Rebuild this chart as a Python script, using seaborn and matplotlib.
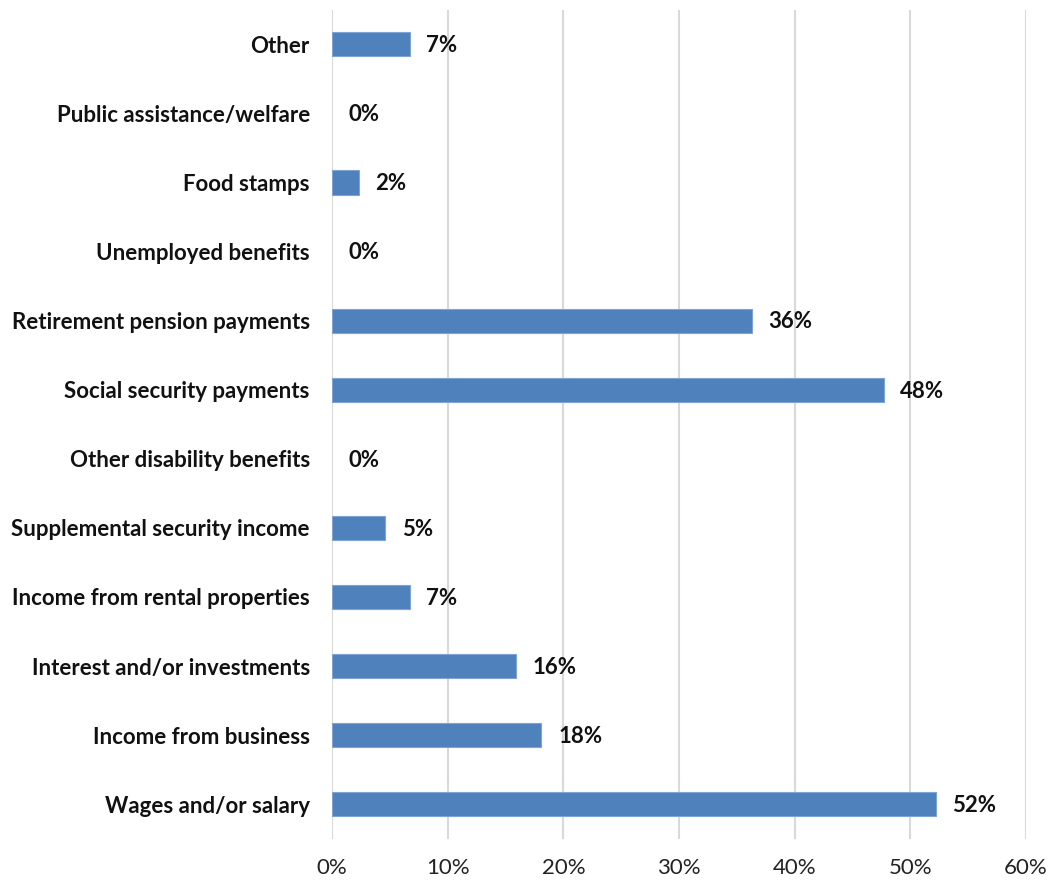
import matplotlib
matplotlib.use("Agg")
import matplotlib.pyplot as plt
import seaborn as sns
import pandas as pd
from matplotlib.ticker import FuncFormatter

categories = [
    "Other",
    "Public assistance/welfare",
    "Food stamps",
    "Unemployed benefits",
    "Retirement pension payments",
    "Social security payments",
    "Other disability benefits",
    "Supplemental security income",
    "Income from rental properties",
    "Interest and/or investments",
    "Income from business",
    "Wages and/or salary",
]
shares = [6.7, 0.0, 2.3, 0.0, 36.3, 47.7, 0.0, 4.6, 6.7, 15.9, 18.1, 52.2]
x_ticks = [0, 10, 20, 30, 40, 50, 60]

df = pd.DataFrame({"category": categories, "share": shares})

sns.set_theme(style="white")
plt.rcParams["font.family"] = ["Lato", "DejaVu Sans"]

fig = plt.figure(figsize=(10.52, 8.82), dpi=100)
ax = fig.add_axes([0.3156, 0.049, 0.6597, 0.940])

sns.barplot(data=df[df["share"] > 0], x="share", y="category", order=categories,
            color="#4F81BD", saturation=1, width=0.35, edgecolor="#7FA3D2",
            linewidth=0.8, ax=ax, zorder=3)

ax.set_xlim(0, 60)
ax.set_ylim(len(categories) - 0.5, -0.5)
ax.set_xticks(x_ticks)
ax.xaxis.set_major_formatter(FuncFormatter(lambda v, _: f"{v:.0f}%"))
ax.grid(axis="x", color="#D9D9D9", linewidth=1.5, zorder=0)
ax.grid(axis="y", visible=False)
for s in ax.spines.values():
    s.set_visible(False)
ax.tick_params(axis="x", length=0, pad=14, labelsize=16, labelcolor="#222222")
ax.tick_params(axis="y", length=0, pad=16, labelsize=16)
for lbl in ax.get_yticklabels():
    lbl.set_fontweight("bold")
    lbl.set_color("#111111")
ax.set_xlabel("")
ax.set_ylabel("")

for i, v in enumerate(shares):
    ax.annotate(f"{v:.0f}%", xy=(v, i), xytext=(12, -1), textcoords="offset points",
                ha="left", va="center", fontsize=16, fontweight="bold", color="#111111")

fig.savefig("out.png", dpi=100)
